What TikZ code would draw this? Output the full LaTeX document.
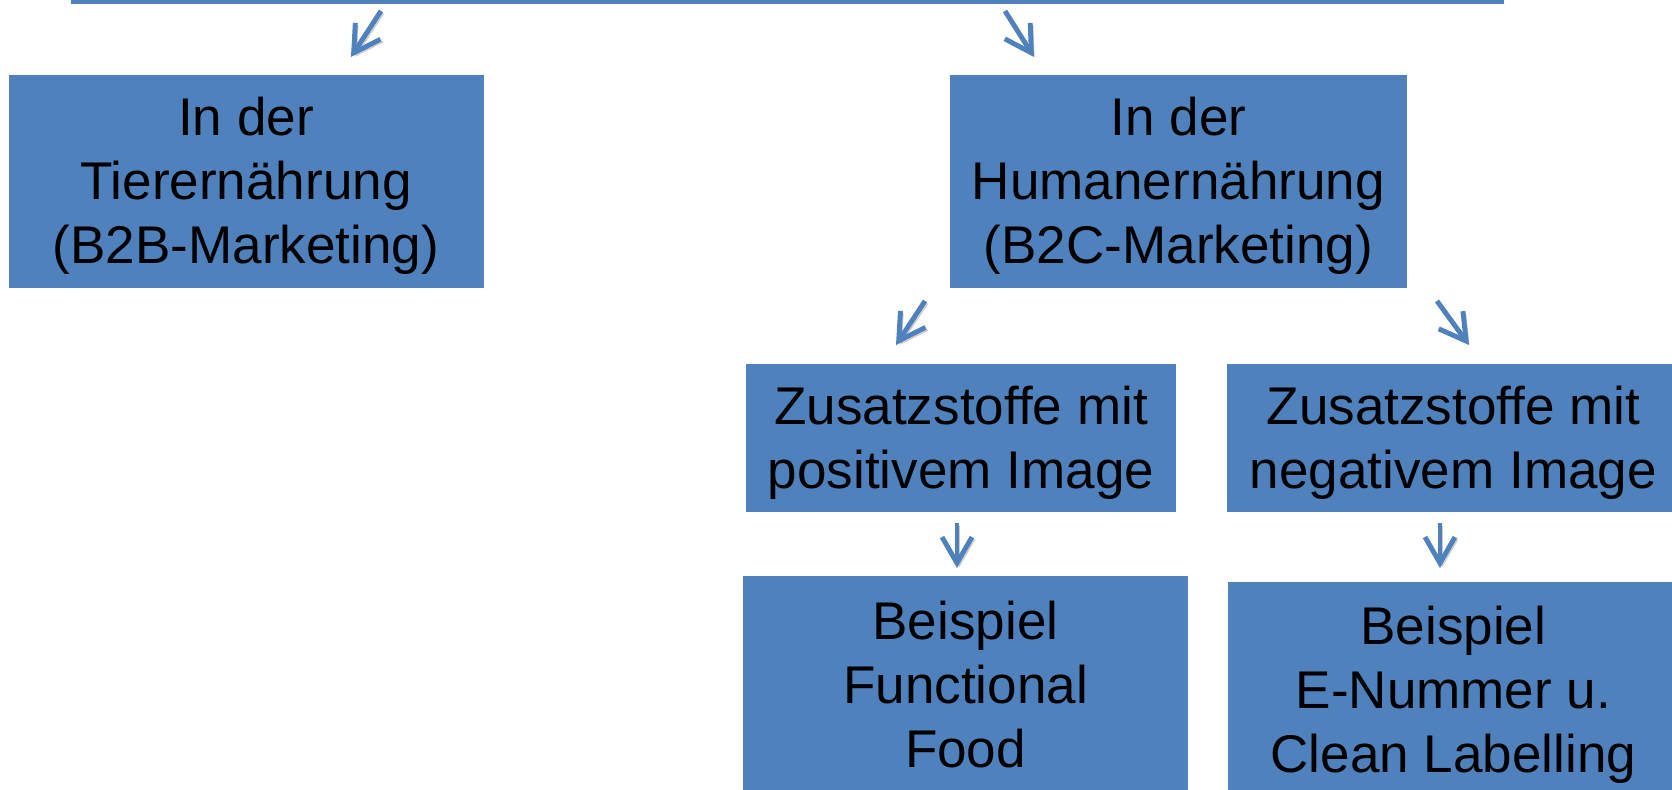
\documentclass[tikz,border=0pt]{standalone}
\usepackage{fontspec}
\setmainfont{Liberation Sans}
\usetikzlibrary{arrows.meta,positioning}
\definecolor{boxblue}{HTML}{4F81BD}
\newcommand{\hstrut}{\rule{0pt}{15pt}}
\newcommand{\dstrut}{\rule[-4.5pt]{0pt}{4.5pt}}
\tikzset{
  bluebox/.style={fill=boxblue,draw=none,align=center,inner sep=0pt,font=\fontsize{15.1}{18.2}\selectfont},
  flow/.style={-{Straight Barb[length=2.6mm,width=3mm]},draw=boxblue,line width=1.4pt,
    preaction={draw=black!20,transform canvas={xshift=.25mm,yshift=-.25mm}}},
}

\begin{document}
\begin{tikzpicture}[x=.1mm,y=-.1mm]
  \useasboundingbox (0,0) rectangle (1672,790);
  \clip (0,0) rectangle (1672,790);
  \node[bluebox,minimum width=143.3mm,minimum height=10mm,anchor=south west] (root) at (70,4.5) {};
  \node[bluebox,minimum width=47.5mm,minimum height=21.3mm] (tier) at (246,181) {\hstrut In der\\Tierernährung\\(B2B-Marketing)\dstrut};
  \node[bluebox,minimum width=45.7mm,minimum height=21.3mm,right=46.5mm of tier] (human) {\hstrut In der\\Humanernährung\\(B2C-Marketing)\dstrut};
  \node[bluebox,minimum width=43mm,minimum height=14.8mm] (pos) at (961,438) {\hstrut Zusatzstoffe mit\\positivem Image\dstrut};
  \node[bluebox,minimum width=45.2mm,minimum height=14.8mm,right=5mm of pos] (neg) {\hstrut Zusatzstoffe mit\\negativem Image\dstrut};
  \node[bluebox,minimum width=44.5mm,minimum height=21.8mm,below=6.3mm of pos,xshift=.45mm] (food) {\hstrut Beispiel\\Functional\\Food\dstrut};
  \node[bluebox,minimum width=45mm,minimum height=21.5mm,below=6.9mm of neg] (enum) {\hstrut Beispiel\\E-Nummer u.\\Clean Labelling\dstrut};
  % arrow ends
  \coordinate (r1) at (381,11);    \coordinate (t1) at (351,57);
  \coordinate (r2) at (1005,11);   \coordinate (h1) at (1034,57);
  \coordinate (h2) at (925,301);   \coordinate (p1) at (896,345);
  \coordinate (h3) at (1437,301);  \coordinate (n1) at (1469,345);
  \coordinate (p2) at (957,523);   \coordinate (f1) at (957,568);
  \coordinate (n2) at (1440,523);  \coordinate (e1) at (1440,568);
  \draw[flow] (r1)--(t1);
  \draw[flow] (r2)--(h1);
  \draw[flow] (h2)--(p1);
  \draw[flow] (h3)--(n1);
  \draw[flow] (p2)--(f1);
  \draw[flow] (n2)--(e1);
\end{tikzpicture}
\end{document}
